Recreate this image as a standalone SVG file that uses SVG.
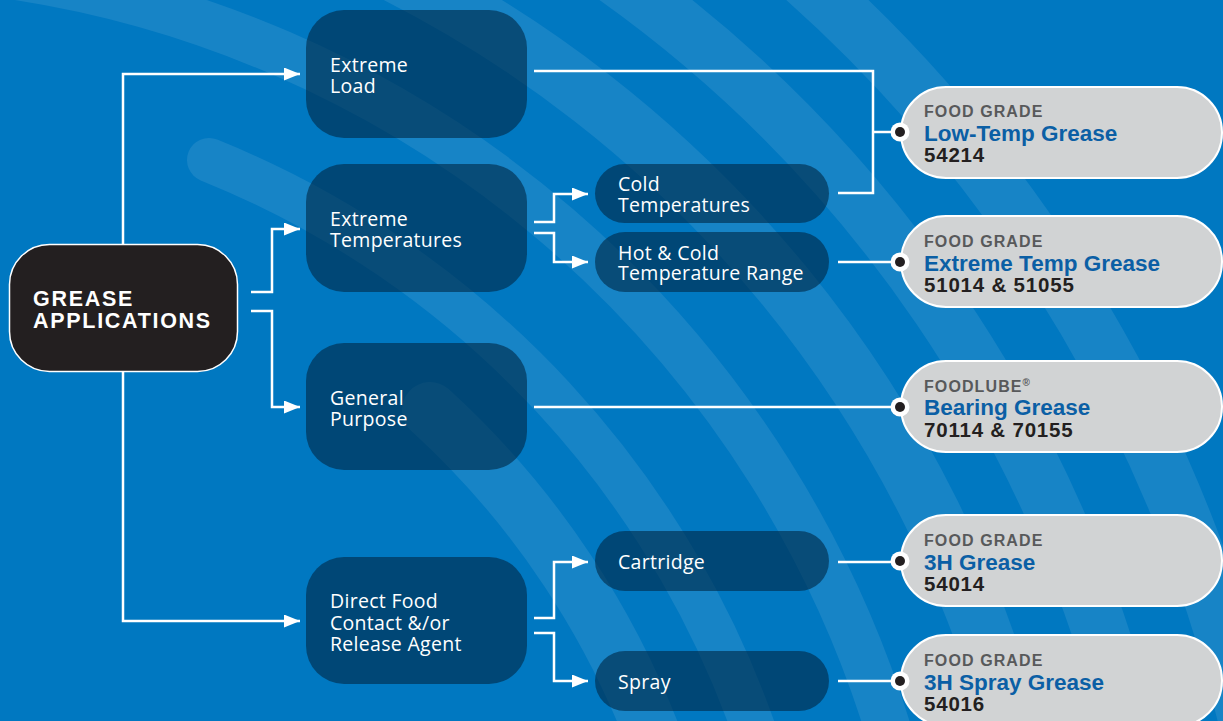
<svg xmlns="http://www.w3.org/2000/svg" width="1223" height="721" viewBox="0 0 1223 721">
<style>
.band{fill:none;stroke:#ffffff;stroke-opacity:0.09;stroke-linecap:round}
.dk{fill:#002a48;fill-opacity:0.62}
.wt{font-family:"Open Sans","DejaVu Sans",sans-serif;font-size:19.5px;fill:#ffffff;letter-spacing:0.3px}
.pill{fill:#d1d3d4;stroke:#ffffff;stroke-width:2}
.fg{font-family:"Liberation Sans",Arial,sans-serif;font-weight:bold;font-size:16px;fill:#58595b;letter-spacing:1.1px}
.tt{font-family:"Liberation Sans",Arial,sans-serif;font-weight:bold;font-size:22.5px;fill:#0b5fa5}
.nm{font-family:"Liberation Sans",Arial,sans-serif;font-weight:bold;font-size:20.5px;fill:#231f20;letter-spacing:0.8px}
.ln{fill:none;stroke:#ffffff;stroke-width:2.5}
.ar{marker-end:url(#arr)}
</style>
<defs>
<marker id="arr" markerWidth="16" markerHeight="13" refX="16" refY="6.5" orient="auto" markerUnits="userSpaceOnUse">
<path d="M0,0 L16,6.5 L0,13 Z" fill="#ffffff"/>
</marker>
</defs>
<rect x="0" y="0" width="1223" height="721" fill="#0078c1"/>
<g id="background-bands">
<path class="band" stroke-width="56" d="M430,410 A862,862 0 0 1 662,760"/>
<path class="band" stroke-width="44" d="M209,160 A959,959 0 0 1 764,760"/>
<path class="band" stroke-width="46" d="M-20,-28 A1086,1086 0 0 1 897,760"/>
<path class="band" stroke-width="58" d="M368,-40 A1207,1207 0 0 1 1022,760"/>
<path class="band" stroke-width="56" d="M591,-40 A1318,1318 0 0 1 1136,760"/>
<path class="band" stroke-width="56" d="M783,-40 A1435,1435 0 0 1 1255,760"/>
</g>
<g id="grease-applications">
<rect x="9.5" y="244.5" width="228" height="127" rx="40" fill="#231f20" stroke="#ffffff" stroke-width="1.5"/>
<text font-family="Liberation Sans,Arial,sans-serif" font-weight="bold" font-size="21.5" fill="#ffffff" letter-spacing="1.7"><tspan x="33" y="306">GREASE</tspan><tspan x="33" y="328">APPLICATIONS</tspan></text>
</g>
<g id="extreme-load">
<rect class="dk" x="306" y="10" width="221" height="128" rx="38"/>
<text class="wt"><tspan x="330" y="72">Extreme</tspan><tspan x="330" y="93">Load</tspan></text>
</g>
<g id="extreme-temperatures">
<rect class="dk" x="306" y="164" width="221" height="128" rx="38"/>
<text class="wt"><tspan x="330" y="226">Extreme</tspan><tspan x="330" y="247">Temperatures</tspan></text>
</g>
<g id="general-purpose">
<rect class="dk" x="306" y="343" width="221" height="127" rx="38"/>
<text class="wt"><tspan x="330" y="405">General</tspan><tspan x="330" y="426">Purpose</tspan></text>
</g>
<g id="direct-food">
<rect class="dk" x="306" y="557" width="221" height="127" rx="38"/>
<text class="wt"><tspan x="330" y="608">Direct Food</tspan><tspan x="330" y="630">Contact &amp;/or</tspan><tspan x="330" y="651">Release Agent</tspan></text>
</g>
<g id="cold-temperatures">
<rect class="dk" x="595" y="164" width="234" height="59" rx="29.5"/>
<text class="wt"><tspan x="618" y="191">Cold</tspan><tspan x="618" y="212">Temperatures</tspan></text>
</g>
<g id="hot-cold">
<rect class="dk" x="595" y="232" width="234" height="60" rx="30"/>
<text class="wt"><tspan x="618" y="260">Hot &amp; Cold</tspan><tspan x="618" y="280">Temperature Range</tspan></text>
</g>
<g id="cartridge">
<rect class="dk" x="595" y="531" width="234" height="60" rx="30"/>
<text class="wt" x="618" y="569">Cartridge</text>
</g>
<g id="spray">
<rect class="dk" x="595" y="651" width="234" height="60" rx="30"/>
<text class="wt" x="618" y="689">Spray</text>
</g>
<g id="low-temp-grease">
<rect class="pill" x="901" y="87" width="321" height="91" rx="45"/>
<text class="fg" x="924" y="117">FOOD GRADE</text>
<text class="tt" x="924" y="141">Low-Temp Grease</text>
<text class="nm" x="924" y="162">54214</text>
</g>
<g id="extreme-temp-grease">
<rect class="pill" x="901" y="216" width="321" height="91" rx="45"/>
<text class="fg" x="924" y="247">FOOD GRADE</text>
<text class="tt" x="924" y="271">Extreme Temp Grease</text>
<text class="nm" x="924" y="292">51014 &amp; 51055</text>
</g>
<g id="bearing-grease">
<rect class="pill" x="901" y="361" width="321" height="91" rx="45"/>
<text class="fg" x="924" y="392">FOODLUBE<tspan font-size="10" dy="-6" letter-spacing="0">®</tspan></text>
<text class="tt" x="924" y="415">Bearing Grease</text>
<text class="nm" x="924" y="437">70114 &amp; 70155</text>
</g>
<g id="h3-grease">
<rect class="pill" x="901" y="515" width="321" height="91" rx="45"/>
<text class="fg" x="924" y="546">FOOD GRADE</text>
<text class="tt" x="924" y="570">3H Grease</text>
<text class="nm" x="924" y="591">54014</text>
</g>
<g id="h3-spray-grease">
<rect class="pill" x="901" y="635" width="321" height="91" rx="45"/>
<text class="fg" x="924" y="666">FOOD GRADE</text>
<text class="tt" x="924" y="690">3H Spray Grease</text>
<text class="nm" x="924" y="711">54016</text>
</g>
<g id="connectors">
<path class="ln ar" d="M123,245 V74 H300"/>
<path class="ln ar" d="M123,371 V621 H300"/>
<path class="ln ar" d="M251,292 H272 V229 H300"/>
<path class="ln ar" d="M251,311 H272 V407 H300"/>
<path class="ln ar" d="M534,222 H554 V194 H588"/>
<path class="ln ar" d="M534,233 H554 V262 H588"/>
<path class="ln ar" d="M534,618 H554 V562 H588"/>
<path class="ln ar" d="M534,633 H554 V681 H588"/>
<path class="ln" d="M534,71 H873 V193 H838"/>
<path class="ln" d="M873,132 H896"/>
<path class="ln" d="M838,262 H896"/>
<path class="ln" d="M534,407 H896"/>
<path class="ln" d="M838,562 H896"/>
<path class="ln" d="M838,681 H896"/>
<g fill="#ffffff">
<circle cx="900" cy="132" r="9.5"/><circle cx="900" cy="262" r="9.5"/><circle cx="900" cy="407" r="9.5"/><circle cx="900" cy="561" r="9.5"/><circle cx="900" cy="681" r="9.5"/>
</g>
<g fill="#231f20">
<circle cx="900" cy="132" r="5"/><circle cx="900" cy="262" r="5"/><circle cx="900" cy="407" r="5"/><circle cx="900" cy="561" r="5"/><circle cx="900" cy="681" r="5"/>
</g>
</g>
</svg>
